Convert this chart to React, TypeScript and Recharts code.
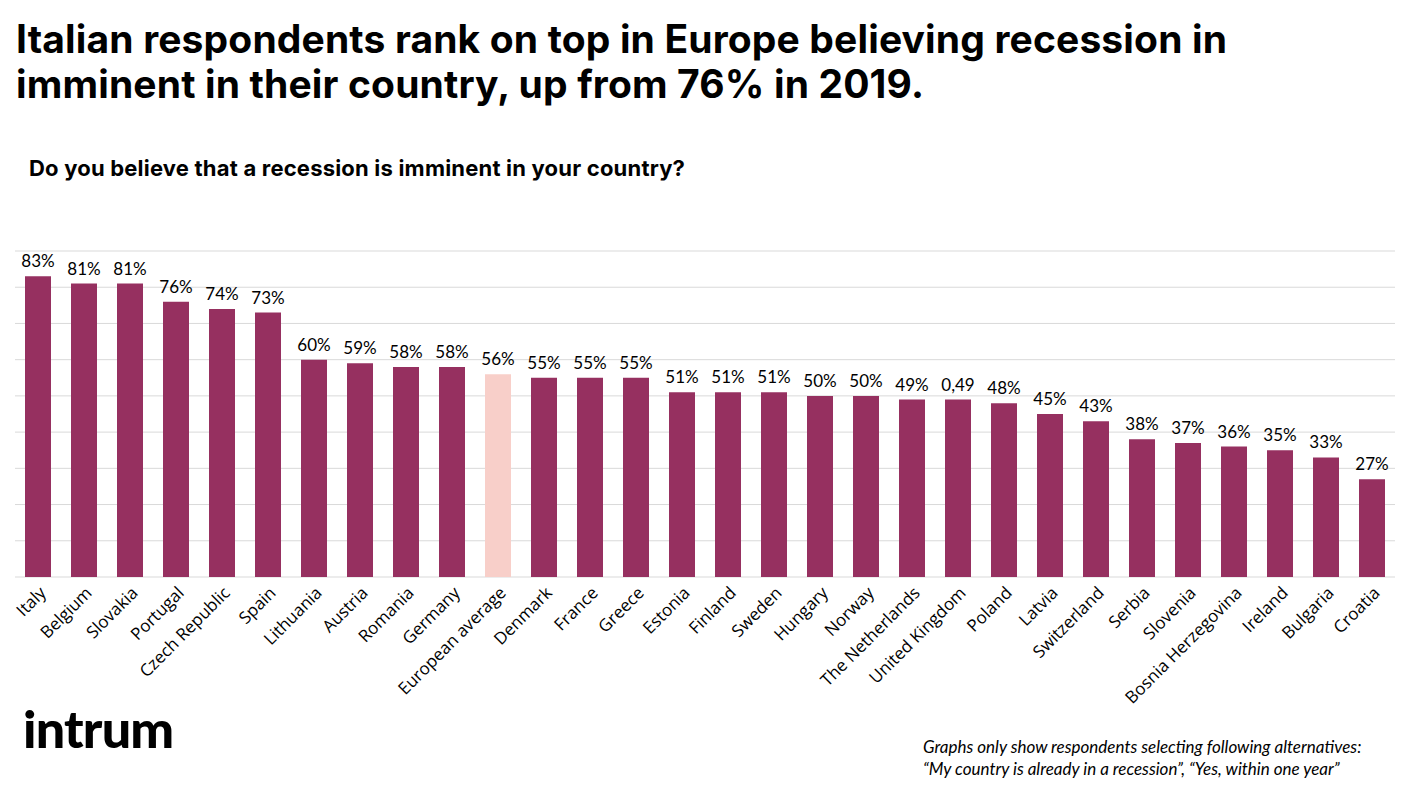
import { BarChart, Bar, XAxis, YAxis, CartesianGrid, Cell, LabelList } from 'recharts'

const countries = [
  'Italy', 'Belgium', 'Slovakia', 'Portugal', 'Czech Republic', 'Spain', 'Lithuania', 'Austria',
  'Romania', 'Germany', 'European average', 'Denmark', 'France', 'Greece', 'Estonia', 'Finland',
  'Sweden', 'Hungary', 'Norway', 'The Netherlands', 'United Kingdom', 'Poland', 'Latvia',
  'Switzerland', 'Serbia', 'Slovenia', 'Bosnia Herzegovina', 'Ireland', 'Bulgaria', 'Croatia',
]

const values = [83, 81, 81, 76, 74, 73, 60, 59, 58, 58, 56, 55, 55, 55, 51, 51, 51, 50, 50, 49, 49, 48, 45, 43, 38, 37, 36, 35, 33, 27]

const valueLabels = [
  '83%', '81%', '81%', '76%', '74%', '73%', '60%', '59%', '58%', '58%', '56%', '55%', '55%', '55%',
  '51%', '51%', '51%', '50%', '50%', '49%', '0,49', '48%', '45%', '43%', '38%', '37%', '36%', '35%',
  '33%', '27%',
]

const yTicks = [0, 10, 20, 30, 40, 50, 60, 70, 80, 90]

const data = countries.map((name, i) => ({ name, value: values[i], label: valueLabels[i] }))

const BAR = '#963060'
const AVG = '#f8cfc9'
const FONT = 'Lato, "Open Sans", sans-serif'

function AngledTick(props: any) {
  const { x, y, payload } = props
  const ax = x + 9
  const ay = y + 9
  return (
    <text
      x={ax}
      y={ay}
      transform={`rotate(-45, ${ax}, ${ay})`}
      textAnchor='end'
      fontSize={17}
      fontFamily='"Open Sans", sans-serif'
      fill='#000'
    >
      {payload.value}
    </text>
  )
}

export default function App() {
  return (
    <div style={{ position: 'absolute', left: 0, top: 0, width: 1403, height: 789, background: '#fff', fontFamily: FONT }}>
      <BarChart
        width={1403}
        height={789}
        data={data}
        margin={{ top: 251, right: 8, left: 15, bottom: 82 }}
        barSize={26}
      >
        <CartesianGrid vertical={false} stroke='#d9d9d9' strokeWidth={1} />
        <YAxis hide domain={[0, 90]} ticks={yTicks} />
        <XAxis
          dataKey='name'
          interval={0}
          height={130}
          axisLine={false}
          tickLine={false}
          tick={<AngledTick />}
        />
        <Bar dataKey='value' isAnimationActive={false}>
          {data.map((d) => (
            <Cell key={d.name} fill={d.name === 'European average' ? AVG : BAR} />
          ))}
          <LabelList dataKey='label' position='top' offset={9} fontSize={17} fontFamily={FONT} fill='#000' />
        </Bar>
      </BarChart>

      <div
        style={{
          position: 'absolute', left: 16, top: 16, fontFamily: 'Inter, sans-serif', fontWeight: 700,
          fontSize: 39, lineHeight: '45px', letterSpacing: 0.15, color: '#000',
        }}
      >
        Italian respondents rank on top in Europe believing recession in
        <br />
        imminent in their country, up from 76% in 2019.
      </div>

      <div
        style={{
          position: 'absolute', left: 29, top: 155, fontFamily: 'Inter, sans-serif', fontWeight: 700,
          fontSize: 22, color: '#000', letterSpacing: 0.2,
        }}
      >
        Do you believe that a recession is imminent in your country?
      </div>

      <div
        style={{
          position: 'absolute', left: 23, top: 698, fontFamily: 'Lato, sans-serif', fontWeight: 900,
          fontSize: 52, lineHeight: '60px', color: '#000', letterSpacing: -0.8,
        }}
      >
        intrum
      </div>

      <div
        style={{
          position: 'absolute', left: 923, top: 736, fontFamily: FONT, fontStyle: 'italic',
          fontSize: 17, lineHeight: '22px', color: '#000',
        }}
      >
        Graphs only show respondents selecting following alternatives:
        <br />
        “My country is already in a recession”, “Yes, within one year”
      </div>
    </div>
  )
}
